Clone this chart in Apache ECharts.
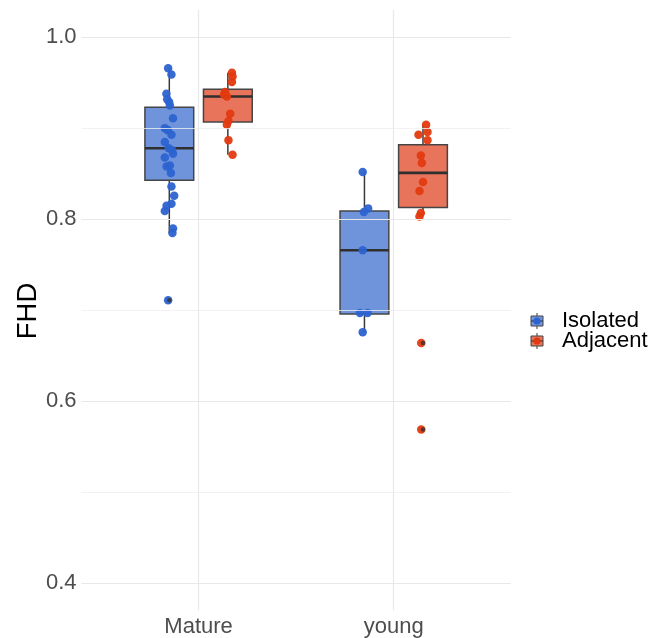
<!DOCTYPE html>
<html>
<head>
<meta charset="utf-8">
<script src="https://cdn.jsdelivr.net/npm/echarts@6/dist/echarts.min.js"></script>
<style>
html,body{margin:0;padding:0;background:#fff;}
#chart{width:665px;height:638px;}
</style>
</head>
<body>
<div id="chart"></div>
<script>
// ---- data ----
const categories = ['Mature', 'young'];
const groupNames = ['Isolated', 'Adjacent'];
const yAxisTitle = 'FHD';
const yTicks = [0.4, 0.6, 0.8, 1.0];
const yMinorTicks = [0.5, 0.7, 0.9];

// five-number summaries per category: [lower whisker, Q1, median, Q3, upper whisker]
const isolatedBox = [[0.785, 0.843, 0.878, 0.923, 0.966], [0.676, 0.696, 0.766, 0.809, 0.852]];
const adjacentBox = [[0.871, 0.907, 0.935, 0.943, 0.961], [0.805, 0.813, 0.851, 0.882, 0.904]];

// outliers: [category index, value]
const isolatedOutliers = [[0, 0.711]];
const adjacentOutliers = [[1, 0.664], [1, 0.569]];

// individual observations (jittered points) and their horizontal jitter (x units)
const isolatedMatureFHD = [0.966, 0.959, 0.938, 0.932, 0.929, 0.925, 0.911, 0.900, 0.898, 0.893, 0.885, 0.878, 0.876, 0.872, 0.868, 0.859, 0.858, 0.851, 0.836, 0.826, 0.817, 0.815, 0.809, 0.790, 0.785, 0.711];
const isolatedMatureJitter = [-0.006, 0.011, -0.015, -0.011, -0.001, 0.003, 0.019, -0.023, -0.008, 0.011, -0.023, -0.003, 0.014, 0.019, -0.023, 0.003, -0.014, 0.008, 0.011, 0.025, 0.011, -0.014, -0.023, 0.019, 0.016, -0.006];
const adjacentMatureFHD = [0.961, 0.957, 0.951, 0.940, 0.937, 0.935, 0.916, 0.908, 0.904, 0.887, 0.871];
const adjacentMatureJitter = [0.021, 0.024, 0.021, -0.014, -0.019, -0.005, 0.012, 0.003, -0.005, 0.003, 0.024];
const isolatedYoungFHD = [0.852, 0.812, 0.808, 0.766, 0.697, 0.697, 0.676];
const isolatedYoungJitter = [-0.009, 0.019, -0.003, -0.009, -0.023, 0.016, -0.009];
const adjacentYoungFHD = [0.904, 0.896, 0.893, 0.887, 0.870, 0.862, 0.841, 0.831, 0.807, 0.803, 0.664, 0.569];
const adjacentYoungJitter = [0.016, 0.023, -0.023, 0.023, -0.011, -0.006, 0.000, -0.018, -0.011, -0.018, -0.009, -0.009];

// ---- layout / style ----
const DODGE = 0.15;
const HALF_W = 0.125;
const FONT = '"Liberation Sans", Arial, sans-serif';
const colors = {
  Isolated: { fill: '#7094dc', point: '#2c63d0' },
  Adjacent: { fill: '#e8745b', point: '#e13a10' }
};
const groupOffset = { Isolated: -DODGE, Adjacent: DODGE };

function boxData(boxes, g) {
  return boxes.map((b, c) => [c + 1 + groupOffset[g]].concat(b));
}
function pointData(values, jitter, c, g) {
  return values.map((v, i) => [c + 1 + groupOffset[g] + jitter[i], v]);
}
function outlierData(list, g) {
  return list.map(o => [o[0] + 1 + groupOffset[g], o[1]]);
}

function renderBox(fill) {
  return function (params, api) {
    const x = api.value(0);
    const lo = api.coord([x, api.value(1)]);
    const q1 = api.coord([x, api.value(2)]);
    const md = api.coord([x, api.value(3)]);
    const q3 = api.coord([x, api.value(4)]);
    const hi = api.coord([x, api.value(5)]);
    const left = api.coord([x - HALF_W, 0])[0];
    const right = api.coord([x + HALF_W, 0])[0];
    const cx = lo[0];
    const lineStyle = { stroke: '#3a3a3a', lineWidth: 1.5 };
    return {
      type: 'group',
      children: [
        { type: 'line', shape: { x1: cx, y1: hi[1], x2: cx, y2: q3[1] }, style: lineStyle },
        { type: 'line', shape: { x1: cx, y1: q1[1], x2: cx, y2: lo[1] }, style: lineStyle },
        { type: 'rect', shape: { x: left, y: q3[1], width: right - left, height: q1[1] - q3[1] },
          style: { fill: fill, stroke: '#454545', lineWidth: 1.5 } },
        { type: 'line', shape: { x1: left, y1: md[1], x2: right, y2: md[1] },
          style: { stroke: '#2f2f2f', lineWidth: 2.6 } }
      ]
    };
  };
}

const gridLines = [];
yTicks.forEach(v => gridLines.push({ yAxis: v, lineStyle: { color: '#e8e8e8', width: 1.2, type: 'solid' } }));
yMinorTicks.forEach(v => gridLines.push({ yAxis: v, lineStyle: { color: '#efefef', width: 0.8, type: 'solid' } }));
[1, 2].forEach(v => gridLines.push({ xAxis: v, lineStyle: { color: '#e8e8e8', width: 1.2, type: 'solid' } }));

function legendKey(y, g) {
  const cx = 537;
  return {
    type: 'group',
    children: [
      { type: 'line', shape: { x1: cx, y1: y - 8, x2: cx, y2: y + 8 }, style: { stroke: '#3a3a3a', lineWidth: 1 } },
      { type: 'rect', shape: { x: cx - 6, y: y - 5, width: 12, height: 10 },
        style: { fill: colors[g].fill, stroke: '#454545', lineWidth: 1 } },
      { type: 'line', shape: { x1: cx - 6, y1: y, x2: cx + 6, y2: y }, style: { stroke: '#2f2f2f', lineWidth: 1 } },
      { type: 'circle', shape: { cx: cx, cy: y, r: 3.6 }, style: { fill: colors[g].point } },
      { type: 'text', x: 562, y: y, style: { text: g, fill: '#000', font: '22px ' + FONT, textVerticalAlign: 'middle', textAlign: 'left' } }
    ]
  };
}

const option = {
  animation: false,
  backgroundColor: '#ffffff',
  grid: { left: 81.5, top: 10, width: 429.3, height: 600.6, containLabel: false },
  xAxis: {
    type: 'value', min: 0.4, max: 2.6,
    axisLine: { show: false }, axisTick: { show: false }, splitLine: { show: false },
    axisLabel: {
      customValues: [1, 2],
      formatter: v => categories[Math.round(v) - 1] || '',
      color: '#4d4d4d', fontSize: 22, fontFamily: FONT, margin: 5
    }
  },
  yAxis: {
    type: 'value', min: 0.37, max: 1.03,
    axisLine: { show: false }, axisTick: { show: false }, splitLine: { show: false },
    axisLabel: {
      customValues: yTicks,
      formatter: v => v.toFixed(1),
      color: '#4d4d4d', fontSize: 22, fontFamily: FONT, margin: 5
    }
  },
  series: [
    {
      type: 'scatter', data: [[1, 0.8]], symbolSize: 0, silent: true,
      markLine: { silent: true, symbol: ['none', 'none'], label: { show: false }, data: gridLines }
    },
    { type: 'custom', name: 'Isolated', renderItem: renderBox(colors.Isolated.fill),
      data: boxData(isolatedBox, 'Isolated'), encode: { x: 0, y: [1, 2, 3, 4, 5] } },
    { type: 'custom', name: 'Adjacent', renderItem: renderBox(colors.Adjacent.fill),
      data: boxData(adjacentBox, 'Adjacent'), encode: { x: 0, y: [1, 2, 3, 4, 5] } },
    { type: 'scatter', symbolSize: 8.5, itemStyle: { color: colors.Isolated.point, opacity: 0.95 },
      data: pointData(isolatedMatureFHD, isolatedMatureJitter, 0, 'Isolated')
        .concat(pointData(isolatedYoungFHD, isolatedYoungJitter, 1, 'Isolated')) },
    { type: 'scatter', symbolSize: 8.5, itemStyle: { color: colors.Adjacent.point, opacity: 0.95 },
      data: pointData(adjacentMatureFHD, adjacentMatureJitter, 0, 'Adjacent')
        .concat(pointData(adjacentYoungFHD, adjacentYoungJitter, 1, 'Adjacent')) },
    { type: 'scatter', symbolSize: 4.5, itemStyle: { color: '#333333' },
      data: outlierData(isolatedOutliers, 'Isolated').concat(outlierData(adjacentOutliers, 'Adjacent')) }
  ],
  graphic: [
    legendKey(321, 'Isolated'),
    legendKey(341, 'Adjacent'),
    { type: 'text', x: 28, y: 311, rotation: Math.PI / 2,
      style: { text: yAxisTitle, fill: '#000', font: '27.5px ' + FONT, textAlign: 'center', textVerticalAlign: 'middle' } }
  ]
};

const chart = echarts.init(document.getElementById('chart'), null, { renderer: 'canvas' });
chart.setOption(option);
</script>
</body>
</html>
